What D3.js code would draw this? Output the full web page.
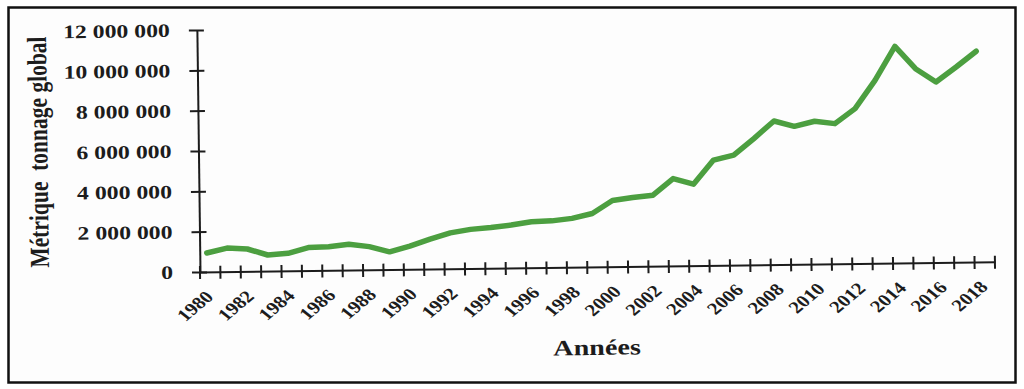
<!DOCTYPE html>
<html>
<head>
<meta charset="utf-8">
<script src="https://cdn.jsdelivr.net/npm/d3@7"></script>
<style>
  body { margin: 0; background: #fff; }
  svg { display: block; }
</style>
</head>
<body>
<div id="chart"></div>
<script>
const width = 1024;
const height = 389;

// années (catégories)
const years = [1980, 1981, 1982, 1983, 1984, 1985, 1986, 1987, 1988, 1989,
  1990, 1991, 1992, 1993, 1994, 1995, 1996, 1997, 1998, 1999,
  2000, 2001, 2002, 2003, 2004, 2005, 2006, 2007, 2008, 2009,
  2010, 2011, 2012, 2013, 2014, 2015, 2016, 2017, 2018];

// tonnage global (t)
const tonnage = [940000, 1170000, 1110000, 800000, 870000, 1140000, 1170000, 1280000, 1150000, 880000,
  1150000, 1480000, 1780000, 1940000, 2020000, 2130000, 2280000, 2310000, 2420000, 2650000,
  3280000, 3420000, 3520000, 4330000, 4040000, 5220000, 5450000, 6260000, 7120000, 6840000,
  7080000, 6950000, 7680000, 9070000, 10740000, 9620000, 8950000, 9680000, 10450000];

const yTicks = [0, 2000000, 4000000, 6000000, 8000000, 10000000, 12000000];
const labelYears = years.filter(d => d % 2 === 0);

const serif = '"Liberation Serif", "Times New Roman", serif';
const ink = '#1c1c1c';

const svg = d3.select('#chart').append('svg')
  .attr('width', width)
  .attr('height', height);

// cadre
svg.append('rect')
  .attr('x', 8.5).attr('y', 7.5)
  .attr('width', 1007).attr('height', 375)
  .attr('fill', '#fdfdfd')
  .attr('stroke', '#111')
  .attr('stroke-width', 2.5);

// le scan est légèrement penché
const chart = svg.append('g').attr('transform', 'rotate(-0.74, 200, 272)');

const x = d3.scaleBand().domain(years).range([200, 995]);
const xLine = d3.scalePoint().domain(years).range([207, 979]);
const y = d3.scaleLinear().domain([0, 12000000]).range([272, 30]);

const fmt = d => d3.format(',')(d).replace(/,/g, ' ');

// axe Y
chart.append('g')
  .attr('transform', 'translate(200,0)')
  .call(d3.axisLeft(y).tickValues(yTicks).tickFormat(fmt).tickSizeOuter(0))
  .attr('font-family', serif)
  .attr('font-size', 19)
  .attr('font-weight', 'bold')
  .call(g => g.select('.domain').attr('stroke', ink).attr('stroke-width', 2))
  .call(g => g.selectAll('.tick line')
    .attr('x1', 7).attr('x2', -8)
    .attr('stroke', ink).attr('stroke-width', 2))
  .call(g => g.selectAll('.tick text')
    .attr('x', null)
    .attr('transform', 'translate(-27,0) scale(1.25,1)')
    .attr('fill', ink));

// axe X
const xAxis = chart.append('g')
  .attr('transform', 'translate(0,272)')
  .call(d3.axisBottom(x).tickValues(labelYears).tickSize(0).tickSizeOuter(0))
  .attr('font-family', serif)
  .attr('font-size', 17)
  .attr('font-weight', 'bold')
  .call(g => g.select('.domain').attr('stroke', ink).attr('stroke-width', 2))
  .call(g => g.selectAll('.tick text')
    .attr('y', null).attr('dy', null)
    .attr('text-anchor', 'end')
    .attr('transform', 'translate(4,26) scale(1.22,1) rotate(-45)')
    .attr('fill', ink));

// graduations croisées entre les années
xAxis.append('g')
  .selectAll('line')
  .data(years.map(d => x(d)).concat(x.range()[1]))
  .join('line')
  .attr('x1', d => d).attr('x2', d => d)
  .attr('y1', -6).attr('y2', 7)
  .attr('stroke', ink)
  .attr('stroke-width', 2);

// courbe
chart.append('path')
  .datum(tonnage)
  .attr('fill', 'none')
  .attr('stroke', '#4c9f40')
  .attr('stroke-width', 5.5)
  .attr('stroke-linejoin', 'round')
  .attr('stroke-linecap', 'round')
  .attr('d', d3.line().x((d, i) => xLine(years[i])).y(d => y(d)));

// titres des axes
chart.append('text')
  .attr('transform', 'translate(49,150) scale(1.28,1) rotate(-90)')
  .attr('text-anchor', 'middle')
  .attr('font-family', serif)
  .attr('font-size', 21.5)
  .attr('font-weight', 'bold')
  .attr('fill', ink)
  .style('white-space', 'pre')
  .text('Métrique  tonnage global');

chart.append('text')
  .attr('transform', 'translate(596,360) scale(1.28,1)')
  .attr('text-anchor', 'middle')
  .attr('font-family', serif)
  .attr('font-size', 22)
  .attr('font-weight', 'bold')
  .attr('fill', ink)
  .text('Années');
</script>
</body>
</html>
